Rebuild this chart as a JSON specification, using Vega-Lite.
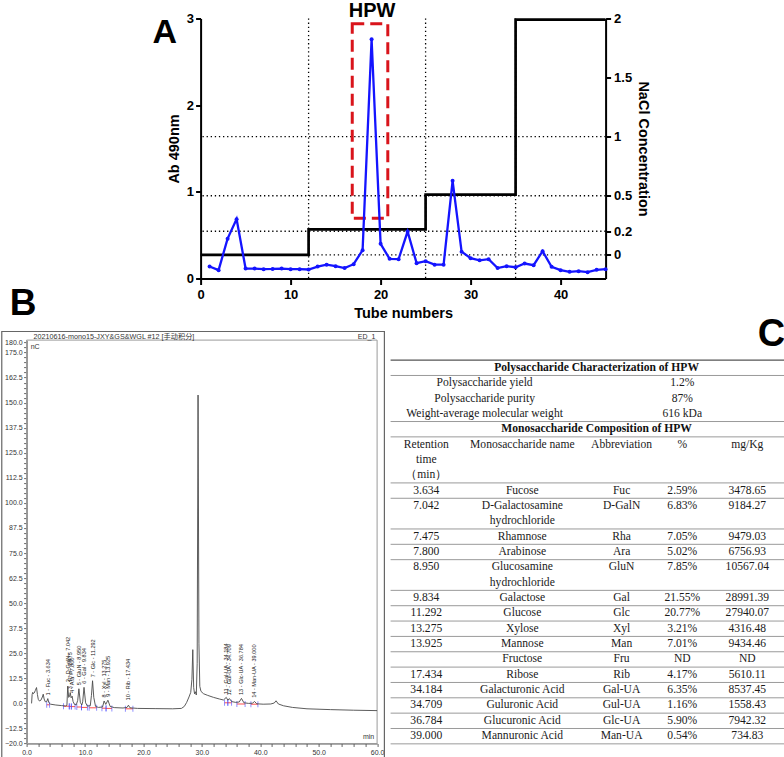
{
  "$schema": "https://vega.github.io/schema/vega-lite/v6.json",
  "padding": {"left": 0.6, "top": 0.5, "right": 0, "bottom": 0},
  "background": "white",
  "center": true,
  "bounds": "flush",
  "spacing": 61.6,
  "datasets": {
    "elution": [
      {"tube": 1, "ab": 0.138}, {"tube": 2, "ab": 0.096}, {"tube": 3, "ab": 0.46}, {"tube": 4, "ab": 0.685},
      {"tube": 5, "ab": 0.115}, {"tube": 6, "ab": 0.115}, {"tube": 7, "ab": 0.108}, {"tube": 8, "ab": 0.11},
      {"tube": 9, "ab": 0.115}, {"tube": 10, "ab": 0.108}, {"tube": 11, "ab": 0.108}, {"tube": 12, "ab": 0.104},
      {"tube": 13, "ab": 0.138}, {"tube": 14, "ab": 0.16}, {"tube": 15, "ab": 0.142}, {"tube": 16, "ab": 0.12},
      {"tube": 17, "ab": 0.165}, {"tube": 18, "ab": 0.327}, {"tube": 19, "ab": 2.76}, {"tube": 20, "ab": 0.4},
      {"tube": 21, "ab": 0.227}, {"tube": 22, "ab": 0.223}, {"tube": 23, "ab": 0.542}, {"tube": 24, "ab": 0.177},
      {"tube": 25, "ab": 0.2}, {"tube": 26, "ab": 0.16}, {"tube": 27, "ab": 0.16}, {"tube": 28, "ab": 1.127},
      {"tube": 29, "ab": 0.31}, {"tube": 30, "ab": 0.235}, {"tube": 31, "ab": 0.21}, {"tube": 32, "ab": 0.223},
      {"tube": 33, "ab": 0.12}, {"tube": 34, "ab": 0.142}, {"tube": 35, "ab": 0.13}, {"tube": 36, "ab": 0.173},
      {"tube": 37, "ab": 0.154}, {"tube": 38, "ab": 0.315}, {"tube": 39, "ab": 0.135}, {"tube": 40, "ab": 0.096},
      {"tube": 41, "ab": 0.077}, {"tube": 42, "ab": 0.085}, {"tube": 43, "ab": 0.073}, {"tube": 44, "ab": 0.1},
      {"tube": 45, "ab": 0.108}
    ],
    "nacl": [
      {"tube": 0, "nacl": 0}, {"tube": 12, "nacl": 0.215}, {"tube": 25, "nacl": 0.51},
      {"tube": 35, "nacl": 1.99}, {"tube": 45, "nacl": 1.99}
    ],
    "cuts": [{"tube": 12}, {"tube": 25}, {"tube": 35}],
    "levels": [{"nacl": 0}, {"nacl": 0.2}, {"nacl": 0.5}, {"nacl": 1}],
    "chrom": [
      {"t": 0.85, "v": 0}, {"t": 0.95, "v": 4.5}, {"t": 1.05, "v": 5.5}, {"t": 1.15, "v": 4.8},
      {"t": 1.3, "v": 5.2}, {"t": 1.5, "v": 6.5}, {"t": 1.7, "v": 7.9}, {"t": 1.85, "v": 4.5},
      {"t": 2.0, "v": 2.0}, {"t": 2.2, "v": 1.2}, {"t": 2.45, "v": 1.6}, {"t": 2.7, "v": 3.2},
      {"t": 2.85, "v": 4.6}, {"t": 3.0, "v": 2.2}, {"t": 3.2, "v": 0.8}, {"t": 3.45, "v": 0.9},
      {"t": 3.63, "v": 2.4}, {"t": 3.8, "v": 0.4}, {"t": 4.1, "v": -0.4}, {"t": 5.0, "v": -0.8},
      {"t": 6.0, "v": -1.1}, {"t": 6.7, "v": -1.3}, {"t": 6.9, "v": -1.0}, {"t": 7.04, "v": 8.6},
      {"t": 7.2, "v": 3.0}, {"t": 7.35, "v": 3.5}, {"t": 7.47, "v": 5.4}, {"t": 7.62, "v": 2.8},
      {"t": 7.8, "v": 3.6}, {"t": 7.95, "v": 1.0}, {"t": 8.2, "v": -0.5}, {"t": 8.5, "v": -0.7},
      {"t": 8.75, "v": 1.5}, {"t": 8.95, "v": 7.3}, {"t": 9.2, "v": 0.5}, {"t": 9.45, "v": -0.8},
      {"t": 9.6, "v": 0.8}, {"t": 9.83, "v": 8.0}, {"t": 10.1, "v": 0.3}, {"t": 10.4, "v": -1.3},
      {"t": 10.9, "v": -1.2}, {"t": 11.1, "v": 4.0}, {"t": 11.29, "v": 11.3}, {"t": 11.5, "v": 3.0},
      {"t": 11.8, "v": -1.5}, {"t": 12.3, "v": -2.0}, {"t": 13.0, "v": -1.8}, {"t": 13.27, "v": 1.2},
      {"t": 13.55, "v": -0.5}, {"t": 13.92, "v": 1.6}, {"t": 14.3, "v": -1.5}, {"t": 15.0, "v": -2.1},
      {"t": 16.5, "v": -2.3}, {"t": 17.2, "v": -2.0}, {"t": 17.43, "v": -0.9}, {"t": 17.7, "v": -2.2},
      {"t": 19.0, "v": -2.5}, {"t": 22.0, "v": -2.6}, {"t": 25.0, "v": -2.7}, {"t": 26.5, "v": -2.5},
      {"t": 27.0, "v": -1.5}, {"t": 27.4, "v": 0.5}, {"t": 27.8, "v": 3.2}, {"t": 28.1, "v": 5.5},
      {"t": 28.3, "v": 12}, {"t": 28.45, "v": 26.8}, {"t": 28.6, "v": 8}, {"t": 28.75, "v": 4.8},
      {"t": 28.9, "v": 5.8}, {"t": 29.05, "v": 4.2}, {"t": 29.2, "v": 20}, {"t": 29.35, "v": 153.8},
      {"t": 29.5, "v": 30}, {"t": 29.65, "v": 8.5}, {"t": 29.85, "v": 6.0}, {"t": 30.3, "v": 4.8},
      {"t": 31.0, "v": 4.0}, {"t": 32.0, "v": 3.0}, {"t": 33.0, "v": 2.2}, {"t": 33.7, "v": 1.7},
      {"t": 34.18, "v": 3.0}, {"t": 34.45, "v": 1.6}, {"t": 34.71, "v": 2.4}, {"t": 35.1, "v": 0.9},
      {"t": 35.8, "v": 0.5}, {"t": 36.4, "v": 0.7}, {"t": 36.78, "v": 2.5}, {"t": 37.2, "v": 0.3},
      {"t": 38.0, "v": 0.0}, {"t": 38.7, "v": 0.1}, {"t": 39.0, "v": 1.0}, {"t": 39.4, "v": -0.2},
      {"t": 40.5, "v": -0.4}, {"t": 41.8, "v": -0.3}, {"t": 42.4, "v": 0.2}, {"t": 42.7, "v": 1.3},
      {"t": 43.1, "v": -0.3}, {"t": 44.0, "v": -1.2}, {"t": 45.5, "v": -2.0}, {"t": 48.0, "v": -2.7},
      {"t": 52.0, "v": -3.1}, {"t": 56.0, "v": -3.4}, {"t": 60.0, "v": -3.6}
    ],
    "integ": [
      {"s": 3.45, "e": 3.95, "b": -0.7}, {"s": 6.3, "e": 7.3, "b": -1.4}, {"s": 7.3, "e": 7.65, "b": -1.5},
      {"s": 7.65, "e": 8.3, "b": -1.6}, {"s": 8.6, "e": 9.4, "b": -1.8}, {"s": 9.4, "e": 10.4, "b": -2.0},
      {"s": 10.7, "e": 12.0, "b": -2.2}, {"s": 12.9, "e": 13.6, "b": -2.4}, {"s": 13.6, "e": 14.6, "b": -2.5},
      {"s": 16.9, "e": 18.2, "b": -2.7}, {"s": 33.9, "e": 34.45, "b": 0.3}, {"s": 34.45, "e": 35.1, "b": 0.3},
      {"s": 36.0, "e": 37.4, "b": -0.3}, {"s": 38.4, "e": 39.6, "b": -0.4}
    ],
    "peaks": [
      {"rt": 3.634, "top": 3.0, "label": "1 - Fuc - 3.634"},
      {"rt": 7.042, "top": 9.5, "label": "2 - D-GalN - 7.042"},
      {"rt": 7.475, "top": 6.0, "label": "3 - Rha - 7.475"},
      {"rt": 7.8, "top": 4.2, "label": "4 - Ara - 7.800"},
      {"rt": 8.95, "top": 8.0, "label": "5 - GluN - 8.950"},
      {"rt": 9.834, "top": 8.8, "label": "6 - Gal - 9.834"},
      {"rt": 11.292, "top": 12.0, "label": "7 - Glc - 11.292"},
      {"rt": 13.275, "top": 2.0, "label": "8 - Xyl - 13.275"},
      {"rt": 13.925, "top": 2.3, "label": "9 - Man - 13.925"},
      {"rt": 17.434, "top": 0.5, "label": "10 - Rib - 17.434"},
      {"rt": 34.184, "top": 3.6, "label": "11 - Gal-UA - 34.184"},
      {"rt": 34.709, "top": 3.0, "label": "12 - Gul-UA - 34.709"},
      {"rt": 36.784, "top": 3.2, "label": "13 - Glc-UA - 36.784"},
      {"rt": 39.0, "top": 1.8, "label": "14 - Man-UA - 39.000"}
    ],
    "rules": [
      {"at": -0.5, "w": "major"}, {"at": 0.5, "w": "minor"}, {"at": 3.5, "w": "minor"}, {"at": 4.5, "w": "minor"},
      {"at": 7.5, "w": "minor"}, {"at": 8.5, "w": "minor"}, {"at": 10.5, "w": "minor"}, {"at": 11.5, "w": "minor"},
      {"at": 12.5, "w": "minor"}, {"at": 14.5, "w": "minor"}, {"at": 15.5, "w": "minor"}, {"at": 16.5, "w": "minor"},
      {"at": 17.5, "w": "minor"}, {"at": 18.5, "w": "minor"}, {"at": 19.5, "w": "minor"}, {"at": 20.5, "w": "minor"},
      {"at": 21.5, "w": "minor"}, {"at": 22.5, "w": "minor"}, {"at": 23.5, "w": "minor"}, {"at": 24.5, "w": "minor"}
    ],
    "cells": [
      {"r": 0, "c": 3, "t": "Polysaccharide Characterization of HPW", "k": "title"},
      {"r": 1, "c": 1, "t": "Polysaccharide yield", "k": "body"}, {"r": 1, "c": 5, "t": "1.2%", "k": "body"},
      {"r": 2, "c": 1, "t": "Polysaccharide purity", "k": "body"}, {"r": 2, "c": 5, "t": "87%", "k": "body"},
      {"r": 3, "c": 1, "t": "Weight-average molecular weight", "k": "body"}, {"r": 3, "c": 5, "t": "616 kDa", "k": "body"},
      {"r": 4, "c": 3, "t": "Monosaccharide Composition of HPW", "k": "title"},
      {"r": 5, "c": 0, "t": "Retention", "k": "body"}, {"r": 6, "c": 0, "t": "time", "k": "body"}, {"r": 7, "c": 0, "t": "（min）", "k": "body"},
      {"r": 5, "c": 2, "t": "Monosaccharide name", "k": "body"}, {"r": 5, "c": 4, "t": "Abbreviation", "k": "body"},
      {"r": 5, "c": 5, "t": "%", "k": "body"}, {"r": 5, "c": 6, "t": "mg/Kg", "k": "body"},
      {"r": 8, "c": 0, "t": "3.634", "k": "body"}, {"r": 8, "c": 2, "t": "Fucose", "k": "body"}, {"r": 8, "c": 4, "t": "Fuc", "k": "body"}, {"r": 8, "c": 5, "t": "2.59%", "k": "body"}, {"r": 8, "c": 6, "t": "3478.65", "k": "body"},
      {"r": 9, "c": 0, "t": "7.042", "k": "body"}, {"r": 9, "c": 2, "t": "D-Galactosamine", "k": "body"}, {"r": 10, "c": 2, "t": "hydrochloride", "k": "body"}, {"r": 9, "c": 4, "t": "D-GalN", "k": "body"}, {"r": 9, "c": 5, "t": "6.83%", "k": "body"}, {"r": 9, "c": 6, "t": "9184.27", "k": "body"},
      {"r": 11, "c": 0, "t": "7.475", "k": "body"}, {"r": 11, "c": 2, "t": "Rhamnose", "k": "body"}, {"r": 11, "c": 4, "t": "Rha", "k": "body"}, {"r": 11, "c": 5, "t": "7.05%", "k": "body"}, {"r": 11, "c": 6, "t": "9479.03", "k": "body"},
      {"r": 12, "c": 0, "t": "7.800", "k": "body"}, {"r": 12, "c": 2, "t": "Arabinose", "k": "body"}, {"r": 12, "c": 4, "t": "Ara", "k": "body"}, {"r": 12, "c": 5, "t": "5.02%", "k": "body"}, {"r": 12, "c": 6, "t": "6756.93", "k": "body"},
      {"r": 13, "c": 0, "t": "8.950", "k": "body"}, {"r": 13, "c": 2, "t": "Glucosamine", "k": "body"}, {"r": 14, "c": 2, "t": "hydrochloride", "k": "body"}, {"r": 13, "c": 4, "t": "GluN", "k": "body"}, {"r": 13, "c": 5, "t": "7.85%", "k": "body"}, {"r": 13, "c": 6, "t": "10567.04", "k": "body"},
      {"r": 15, "c": 0, "t": "9.834", "k": "body"}, {"r": 15, "c": 2, "t": "Galactose", "k": "body"}, {"r": 15, "c": 4, "t": "Gal", "k": "body"}, {"r": 15, "c": 5, "t": "21.55%", "k": "body"}, {"r": 15, "c": 6, "t": "28991.39", "k": "body"},
      {"r": 16, "c": 0, "t": "11.292", "k": "body"}, {"r": 16, "c": 2, "t": "Glucose", "k": "body"}, {"r": 16, "c": 4, "t": "Glc", "k": "body"}, {"r": 16, "c": 5, "t": "20.77%", "k": "body"}, {"r": 16, "c": 6, "t": "27940.07", "k": "body"},
      {"r": 17, "c": 0, "t": "13.275", "k": "body"}, {"r": 17, "c": 2, "t": "Xylose", "k": "body"}, {"r": 17, "c": 4, "t": "Xyl", "k": "body"}, {"r": 17, "c": 5, "t": "3.21%", "k": "body"}, {"r": 17, "c": 6, "t": "4316.48", "k": "body"},
      {"r": 18, "c": 0, "t": "13.925", "k": "body"}, {"r": 18, "c": 2, "t": "Mannose", "k": "body"}, {"r": 18, "c": 4, "t": "Man", "k": "body"}, {"r": 18, "c": 5, "t": "7.01%", "k": "body"}, {"r": 18, "c": 6, "t": "9434.46", "k": "body"},
      {"r": 19, "c": 2, "t": "Fructose", "k": "body"}, {"r": 19, "c": 4, "t": "Fru", "k": "body"}, {"r": 19, "c": 5, "t": "ND", "k": "body"}, {"r": 19, "c": 6, "t": "ND", "k": "body"},
      {"r": 20, "c": 0, "t": "17.434", "k": "body"}, {"r": 20, "c": 2, "t": "Ribose", "k": "body"}, {"r": 20, "c": 4, "t": "Rib", "k": "body"}, {"r": 20, "c": 5, "t": "4.17%", "k": "body"}, {"r": 20, "c": 6, "t": "5610.11", "k": "body"},
      {"r": 21, "c": 0, "t": "34.184", "k": "body"}, {"r": 21, "c": 2, "t": "Galacturonic Acid", "k": "body"}, {"r": 21, "c": 4, "t": "Gal-UA", "k": "body"}, {"r": 21, "c": 5, "t": "6.35%", "k": "body"}, {"r": 21, "c": 6, "t": "8537.45", "k": "body"},
      {"r": 22, "c": 0, "t": "34.709", "k": "body"}, {"r": 22, "c": 2, "t": "Guluronic Acid", "k": "body"}, {"r": 22, "c": 4, "t": "Gul-UA", "k": "body"}, {"r": 22, "c": 5, "t": "1.16%", "k": "body"}, {"r": 22, "c": 6, "t": "1558.43", "k": "body"},
      {"r": 23, "c": 0, "t": "36.784", "k": "body"}, {"r": 23, "c": 2, "t": "Glucuronic Acid", "k": "body"}, {"r": 23, "c": 4, "t": "Glc-UA", "k": "body"}, {"r": 23, "c": 5, "t": "5.90%", "k": "body"}, {"r": 23, "c": 6, "t": "7942.32", "k": "body"},
      {"r": 24, "c": 0, "t": "39.000", "k": "body"}, {"r": 24, "c": 2, "t": "Mannuronic Acid", "k": "body"}, {"r": 24, "c": 4, "t": "Man-UA", "k": "body"}, {"r": 24, "c": 5, "t": "0.54%", "k": "body"}, {"r": 24, "c": 6, "t": "734.83", "k": "body"}
    ]
  },
  "vconcat": [
    {
      "width": 405,
      "height": 260,
      "layer": [
        {
          "layer": [
            {
              "data": {"name": "levels"},
              "mark": {"type": "rule", "color": "#000", "strokeWidth": 1.3, "strokeDash": [1.3, 2.8]},
              "encoding": {
                "y": {
                  "field": "nacl", "type": "quantitative",
                  "scale": {"domain": [-0.2, 2], "nice": false, "zero": false},
                  "axis": {
                    "orient": "right", "values": [0, 0.2, 0.5, 1, 1.5, 2], "format": "~g", "tickCount": 20,
                    "title": "NaCl Concentration", "titleFontSize": 14.5, "titleFontWeight": "bold", "titleColor": "#000", "titlePadding": 4,
                    "labelFontSize": 13, "labelFontWeight": "bold", "labelColor": "#000", "labelPadding": 3,
                    "domainColor": "#000", "domainWidth": 2, "tickColor": "#000", "tickWidth": 2, "tickSize": 5, "grid": false,
                    "labelOverlap": false, "labelFlush": false
                  }
                }
              }
            },
            {
              "data": {"name": "nacl"},
              "mark": {"type": "line", "color": "#000", "strokeWidth": 2.7, "interpolate": "step-after"},
              "encoding": {
                "x": {"field": "tube", "type": "quantitative", "scale": {"domain": [0, 45], "nice": false}},
                "y": {"field": "nacl", "type": "quantitative", "scale": {"domain": [-0.2, 2], "nice": false, "zero": false}}
              }
            }
          ]
        },
        {
          "layer": [
            {
              "data": {"name": "cuts"},
              "mark": {"type": "rule", "color": "#000", "strokeWidth": 1.3, "strokeDash": [1.3, 2.8]},
              "encoding": {
                "x": {"field": "tube", "type": "quantitative", "scale": {"domain": [0, 45], "nice": false}}
              }
            },
            {
              "data": {"values": [{}]},
              "mark": {"type": "rect", "fillOpacity": 0, "stroke": "#d9141b", "strokeWidth": 3, "strokeDash": [12, 6]},
              "encoding": {
                "x": {"datum": 16.85, "type": "quantitative", "scale": {"domain": [0, 45], "nice": false}},
                "x2": {"datum": 20.8},
                "y": {"datum": 0.696, "type": "quantitative", "scale": {"domain": [0, 3], "nice": false}},
                "y2": {"datum": 2.94}
              }
            },
            {
              "data": {"name": "elution"},
              "mark": {"type": "line", "color": "#1414ff", "strokeWidth": 2.3, "point": {"filled": true, "size": 16, "color": "#1414ff"}},
              "encoding": {
                "x": {
                  "field": "tube", "type": "quantitative", "scale": {"domain": [0, 45], "nice": false},
                  "axis": {
                    "orient": "bottom", "values": [0, 10, 20, 30, 40], "format": "d", "tickCount": 20, "title": "Tube numbers",
                    "titleFontSize": 14.5, "titleFontWeight": "bold", "titleColor": "#000", "titlePadding": 5,
                    "labelFontSize": 13, "labelFontWeight": "bold", "labelColor": "#000", "labelPadding": 4,
                    "domainColor": "#000", "domainWidth": 2, "tickColor": "#000", "tickWidth": 2, "tickSize": 6, "grid": false,
                    "labelFlush": false, "labelOverlap": false
                  }
                },
                "y": {
                  "field": "ab", "type": "quantitative", "scale": {"domain": [0, 3], "nice": false},
                  "axis": {
                    "orient": "left", "values": [0, 1, 2, 3], "format": "d", "tickCount": 20, "title": "Ab 490nm",
                    "titleFontSize": 14.5, "titleFontWeight": "bold", "titleColor": "#000", "titlePadding": 5,
                    "labelFontSize": 13, "labelFontWeight": "bold", "labelColor": "#000", "labelPadding": 2,
                    "domainColor": "#000", "domainWidth": 2, "tickColor": "#000", "tickWidth": 2, "tickSize": 5, "grid": false,
                    "labelFlush": false, "labelOverlap": false
                  }
                }
              }
            },
            {
              "data": {"values": [{}]},
              "mark": {"type": "text", "text": "HPW", "fontSize": 20, "fontWeight": "bold", "font": "Liberation Sans", "align": "center", "baseline": "alphabetic", "color": "#000"},
              "encoding": {
                "x": {"datum": 19.06, "type": "quantitative", "scale": {"domain": [0, 45], "nice": false}},
                "y": {"datum": 3.023, "type": "quantitative", "scale": {"domain": [0, 3], "nice": false}}
              }
            },
            {
              "data": {"values": [{}]},
              "mark": {"type": "text", "text": "A", "fontSize": 34, "fontWeight": "bold", "font": "Liberation Sans", "align": "center", "baseline": "alphabetic", "color": "#000"},
              "encoding": {
                "x": {"datum": -3.97, "type": "quantitative", "scale": {"domain": [0, 45], "nice": false}},
                "y": {"datum": 2.712, "type": "quantitative", "scale": {"domain": [0, 3], "nice": false}}
              }
            },
            {
              "data": {"values": [{}]},
              "mark": {"type": "text", "text": "B", "fontSize": 37, "fontWeight": "bold", "font": "Liberation Sans", "align": "center", "baseline": "alphabetic", "color": "#000"},
              "encoding": {
                "x": {"datum": -19.72, "type": "quantitative", "scale": {"domain": [0, 45], "nice": false}},
                "y": {"datum": -0.419, "type": "quantitative", "scale": {"domain": [0, 3], "nice": false}}
              }
            },
            {
              "data": {"values": [{}]},
              "mark": {"type": "text", "text": "C", "fontSize": 38, "fontWeight": "bold", "font": "Liberation Sans", "align": "center", "baseline": "alphabetic", "color": "#000"},
              "encoding": {
                "x": {"datum": 63.44, "type": "quantitative", "scale": {"domain": [0, 45], "nice": false}},
                "y": {"datum": -0.777, "type": "quantitative", "scale": {"domain": [0, 3], "nice": false}}
              }
            }
          ]
        }
      ],
      "resolve": {"scale": {"y": "independent"}}
    },
    {
      "width": 753,
      "height": 403.4,
      "layer": [
        {
          "layer": [
            {
              "data": {"values": [{}]},
              "mark": {"type": "rect", "fillOpacity": 0, "stroke": "#666", "strokeWidth": 1.2},
              "encoding": {
                "x": {"datum": -4.25, "type": "quantitative", "scale": {"domain": [0, 60], "range": [0, 350.5], "nice": false}},
                "x2": {"datum": 61.25},
                "y": {"datum": 185.5, "type": "quantitative", "scale": {"domain": [-20, 181.2], "range": [403.4, 0], "nice": false, "zero": false}},
                "y2": {"datum": -27.5}
              }
            },
            {
              "data": {"values": [{}]},
              "mark": {"type": "rect", "fillOpacity": 0, "stroke": "#9a9a9a", "strokeWidth": 1},
              "encoding": {
                "x": {"datum": 0, "type": "quantitative", "scale": {"domain": [0, 60], "range": [0, 350.5], "nice": false}},
                "x2": {"datum": 60},
                "y": {"datum": 181.2, "type": "quantitative", "scale": {"domain": [-20, 181.2], "range": [403.4, 0], "nice": false, "zero": false}},
                "y2": {"datum": -20}
              }
            },
            {
              "data": {"name": "integ"},
              "mark": {"type": "rule", "color": "#ff3b3b", "strokeWidth": 0.9},
              "encoding": {
                "x": {"field": "s", "type": "quantitative", "scale": {"domain": [0, 60], "range": [0, 350.5], "nice": false}},
                "x2": {"field": "e"},
                "y": {"field": "b", "type": "quantitative", "scale": {"domain": [-20, 181.2], "range": [403.4, 0], "nice": false, "zero": false}}
              }
            },
            {
              "data": {"name": "integ"},
              "mark": {"type": "tick", "orient": "vertical", "color": "#3b3bff", "thickness": 0.8, "size": 6},
              "encoding": {
                "x": {"field": "s", "type": "quantitative", "scale": {"domain": [0, 60], "range": [0, 350.5], "nice": false}},
                "y": {"field": "b", "type": "quantitative", "scale": {"domain": [-20, 181.2], "range": [403.4, 0], "nice": false, "zero": false}}
              }
            },
            {
              "data": {"name": "integ"},
              "mark": {"type": "tick", "orient": "vertical", "color": "#3b3bff", "thickness": 0.8, "size": 6},
              "encoding": {
                "x": {"field": "e", "type": "quantitative", "scale": {"domain": [0, 60], "range": [0, 350.5], "nice": false}},
                "y": {"field": "b", "type": "quantitative", "scale": {"domain": [-20, 181.2], "range": [403.4, 0], "nice": false, "zero": false}}
              }
            },
            {
              "data": {"name": "chrom"},
              "mark": {"type": "line", "color": "#4a4a4a", "strokeWidth": 0.9},
              "encoding": {
                "x": {
                  "field": "t", "type": "quantitative", "scale": {"domain": [0, 60], "range": [0, 350.5], "nice": false},
                  "axis": {
                    "orient": "bottom", "title": null, "grid": false, "tickCount": 100,
                    "values": [0, 2, 4, 6, 8, 10, 12, 14, 16, 18, 20, 22, 24, 26, 28, 30, 32, 34, 36, 38, 40, 42, 44, 46, 48, 50, 52, 54, 56, 58, 60],
                    "labelExpr": "datum.value % 10 === 0 ? format(datum.value, '.1f') : ''",
                    "labelFontSize": 7, "labelColor": "#333", "labelFont": "Liberation Sans", "labelPadding": 2,
                    "tickSize": 3, "tickColor": "#666", "domainColor": "#555", "domainWidth": 1,
                    "labelFlush": false, "labelOverlap": false, "labelBound": false
                  }
                },
                "y": {
                  "field": "v", "type": "quantitative", "scale": {"domain": [-20, 181.2], "range": [403.4, 0], "nice": false, "zero": false},
                  "axis": {
                    "orient": "left", "title": null, "grid": false, "tickCount": 200,
                    "values": [-20, -17.5, -15, -12.5, -10, -7.5, -5, -2.5, 0, 2.5, 5, 7.5, 10, 12.5, 15, 17.5, 20, 22.5, 25, 27.5, 30, 32.5, 35, 37.5, 40, 42.5, 45, 47.5, 50, 52.5, 55, 57.5, 60, 62.5, 65, 67.5, 70, 72.5, 75, 77.5, 80, 82.5, 85, 87.5, 90, 92.5, 95, 97.5, 100, 102.5, 105, 107.5, 110, 112.5, 115, 117.5, 120, 122.5, 125, 127.5, 130, 132.5, 135, 137.5, 140, 142.5, 145, 147.5, 150, 152.5, 155, 157.5, 160, 162.5, 165, 167.5, 170, 172.5, 175, 177.5, 180],
                    "labelExpr": "(datum.value === -20 || datum.value === 180 || datum.value % 12.5 === 0) ? format(datum.value, '.1f') : ''",
                    "labelFontSize": 7, "labelColor": "#333", "labelFont": "Liberation Sans", "labelPadding": 1.5,
                    "tickSize": 3, "tickColor": "#666", "domainColor": "#555", "domainWidth": 1,
                    "labelFlush": false, "labelOverlap": false, "labelBound": false
                  }
                }
              }
            },
            {
              "data": {"name": "peaks"},
              "mark": {"type": "text", "angle": 270, "align": "left", "baseline": "middle", "dx": 2, "fontSize": 5.6, "font": "Liberation Sans", "color": "#222"},
              "encoding": {
                "x": {"field": "rt", "type": "quantitative", "scale": {"domain": [0, 60], "range": [0, 350.5], "nice": false}},
                "y": {"field": "top", "type": "quantitative", "scale": {"domain": [-20, 181.2], "range": [403.4, 0], "nice": false, "zero": false}},
                "text": {"field": "label"}
              }
            },
            {
              "data": {"values": [{}]},
              "mark": {"type": "text", "text": "20210616-mono15-JXY&GS&WGL  #12  [手动积分]", "fontSize": 7.2, "font": "Liberation Sans, Noto Sans CJK SC", "align": "left", "baseline": "middle", "color": "#333"},
              "encoding": {
                "x": {"datum": 1.2, "type": "quantitative", "scale": {"domain": [0, 60], "range": [0, 350.5], "nice": false}},
                "y": {"datum": 182.6, "type": "quantitative", "scale": {"domain": [-20, 181.2], "range": [403.4, 0], "nice": false, "zero": false}}
              }
            },
            {
              "data": {"values": [{}]},
              "mark": {"type": "text", "text": "ED_1", "fontSize": 7, "font": "Liberation Sans", "align": "right", "baseline": "middle", "color": "#333"},
              "encoding": {
                "x": {"datum": 59.7, "type": "quantitative", "scale": {"domain": [0, 60], "range": [0, 350.5], "nice": false}},
                "y": {"datum": 182.6, "type": "quantitative", "scale": {"domain": [-20, 181.2], "range": [403.4, 0], "nice": false, "zero": false}}
              }
            },
            {
              "data": {"values": [{}]},
              "mark": {"type": "text", "text": "nC", "fontSize": 7, "font": "Liberation Sans", "align": "left", "baseline": "middle", "color": "#333"},
              "encoding": {
                "x": {"datum": 0.7, "type": "quantitative", "scale": {"domain": [0, 60], "range": [0, 350.5], "nice": false}},
                "y": {"datum": 177.8, "type": "quantitative", "scale": {"domain": [-20, 181.2], "range": [403.4, 0], "nice": false, "zero": false}}
              }
            },
            {
              "data": {"values": [{}]},
              "mark": {"type": "text", "text": "min", "fontSize": 7, "font": "Liberation Sans", "align": "right", "baseline": "middle", "color": "#333"},
              "encoding": {
                "x": {"datum": 59.5, "type": "quantitative", "scale": {"domain": [0, 60], "range": [0, 350.5], "nice": false}},
                "y": {"datum": -16.9, "type": "quantitative", "scale": {"domain": [-20, 181.2], "range": [403.4, 0], "nice": false, "zero": false}}
              }
            }
          ]
        },
        {
          "layer": [
            {
              "data": {"name": "rules"},
              "transform": [{"filter": "datum.w === 'major'"}],
              "mark": {"type": "rule", "color": "#555", "strokeWidth": 1.4},
              "encoding": {
                "x": {"datum": -1, "type": "quantitative", "scale": {"domain": [-1, 0, 1, 2, 3, 4, 5, 6, 7], "range": [364, 399.7, 458, 495.7, 570, 595, 655.7, 720.7, 775], "nice": false, "zero": false}, "axis": null},
                "x2": {"datum": 7},
                "y": {"field": "at", "type": "quantitative", "scale": {"domain": [-1.805, 25.5], "range": [0, 419.1], "nice": false, "zero": false}, "axis": null}
              }
            },
            {
              "data": {"name": "rules"},
              "transform": [{"filter": "datum.w === 'minor'"}],
              "mark": {"type": "rule", "color": "#9a9a9a", "strokeWidth": 1},
              "encoding": {
                "x": {"datum": -1, "type": "quantitative", "scale": {"domain": [-1, 0, 1, 2, 3, 4, 5, 6, 7], "range": [364, 399.7, 458, 495.7, 570, 595, 655.7, 720.7, 775], "nice": false, "zero": false}, "axis": null},
                "x2": {"datum": 7},
                "y": {"field": "at", "type": "quantitative", "scale": {"domain": [-1.805, 25.5], "range": [0, 419.1], "nice": false, "zero": false}, "axis": null}
              }
            },
            {
              "data": {"name": "cells"},
              "transform": [{"filter": "datum.k === 'body'"}],
              "mark": {"type": "text", "font": "Liberation Serif", "fontSize": 11.6, "color": "#1a1a1a", "align": "center", "baseline": "middle"},
              "encoding": {
                "x": {"field": "c", "type": "quantitative", "scale": {"domain": [-1, 0, 1, 2, 3, 4, 5, 6, 7], "range": [364, 399.7, 458, 495.7, 570, 595, 655.7, 720.7, 775], "nice": false, "zero": false}, "axis": null},
                "y": {"field": "r", "type": "quantitative", "scale": {"domain": [-1.805, 25.5], "range": [0, 419.1], "nice": false, "zero": false}, "axis": null},
                "text": {"field": "t"}
              }
            },
            {
              "data": {"name": "cells"},
              "transform": [{"filter": "datum.k === 'title'"}],
              "mark": {"type": "text", "font": "Liberation Serif", "fontSize": 11.6, "fontWeight": "bold", "color": "#111", "align": "center", "baseline": "middle"},
              "encoding": {
                "x": {"field": "c", "type": "quantitative", "scale": {"domain": [-1, 0, 1, 2, 3, 4, 5, 6, 7], "range": [364, 399.7, 458, 495.7, 570, 595, 655.7, 720.7, 775], "nice": false, "zero": false}, "axis": null},
                "y": {"field": "r", "type": "quantitative", "scale": {"domain": [-1.805, 25.5], "range": [0, 419.1], "nice": false, "zero": false}, "axis": null},
                "text": {"field": "t"}
              }
            }
          ]
        }
      ],
      "resolve": {"scale": {"x": "independent", "y": "independent"}}
    }
  ],
  "config": {
    "view": {"stroke": null},
    "font": "Liberation Sans",
    "axis": {"labelOverlap": false}
  }
}
